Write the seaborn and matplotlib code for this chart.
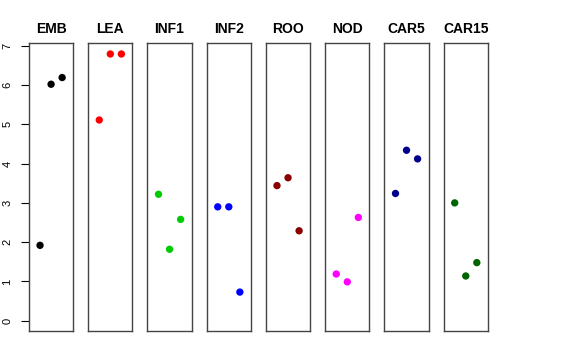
import pandas as pd
import seaborn as sns
import matplotlib
matplotlib.use("Agg")
import matplotlib.pyplot as plt

# grupos y valores (3 puntos por grupo)
grupos = ["EMB", "LEA", "INF1", "INF2", "ROO", "NOD", "CAR5", "CAR15"]
colores = ["#000000", "#FF0000", "#00CD00", "#0000FF",
           "#8B0000", "#FF00FF", "#00008B", "#006400"]
posicion = [1, 2, 3]
emb = [1.92, 6.02, 6.19]
lea = [5.11, 6.79, 6.79]
inf1 = [3.22, 1.82, 2.58]
inf2 = [2.90, 2.90, 0.73]
roo = [3.44, 3.64, 2.29]
nod = [1.19, 0.99, 2.63]
car5 = [3.24, 4.34, 4.12]
car15 = [3.00, 1.14, 1.48]
valores = [emb, lea, inf1, inf2, roo, nod, car5, car15]
yticks = [0, 1, 2, 3, 4, 5, 6, 7]

filas = []
for g, vals in zip(grupos, valores):
    for p, v in zip(posicion, vals):
        filas.append({"grupo": g, "pos": p, "valor": v})
df = pd.DataFrame(filas)

sns.set_style("white")
plt.rcParams["font.family"] = ["Liberation Sans", "DejaVu Sans"]
plt.rcParams["text.color"] = "black"
plt.rcParams["ytick.color"] = "black"
plt.rcParams["ytick.left"] = True
plt.rcParams["ytick.major.size"] = 5.8
plt.rcParams["ytick.major.width"] = 0.8

fig, axes = plt.subplots(1, len(grupos), figsize=(5.76, 3.6), dpi=100)
fig.subplots_adjust(left=0.0503, right=0.847, top=0.8806, bottom=0.0806, wspace=0.34)

for ax, g, c in zip(axes, grupos, colores):
    sub = df[df["grupo"] == g]
    sns.scatterplot(data=sub, x="pos", y="valor", color=c, s=28,
                    edgecolor="none", ax=ax, legend=False)
    ax.set_xlim(0, 4)
    ax.set_ylim(-0.26, 7.07)
    ax.set_xticks([])
    ax.set_xlabel("")
    ax.set_ylabel("")
    ax.set_title(g, fontsize=10, fontweight="bold", pad=7, color="black")
    for sp in ax.spines.values():
        sp.set_visible(True)
        sp.set_color("#444444")
        sp.set_linewidth(1)
    if ax is axes[0]:
        ax.set_yticks(yticks)
        ax.tick_params(axis="y", left=True, length=5.8, width=0.8, color="black",
                       labelsize=8, labelrotation=90, pad=6)
        for lab in ax.get_yticklabels():
            lab.set_va("center")
    else:
        ax.set_yticks([])

plt.savefig("out.png", dpi=100)
